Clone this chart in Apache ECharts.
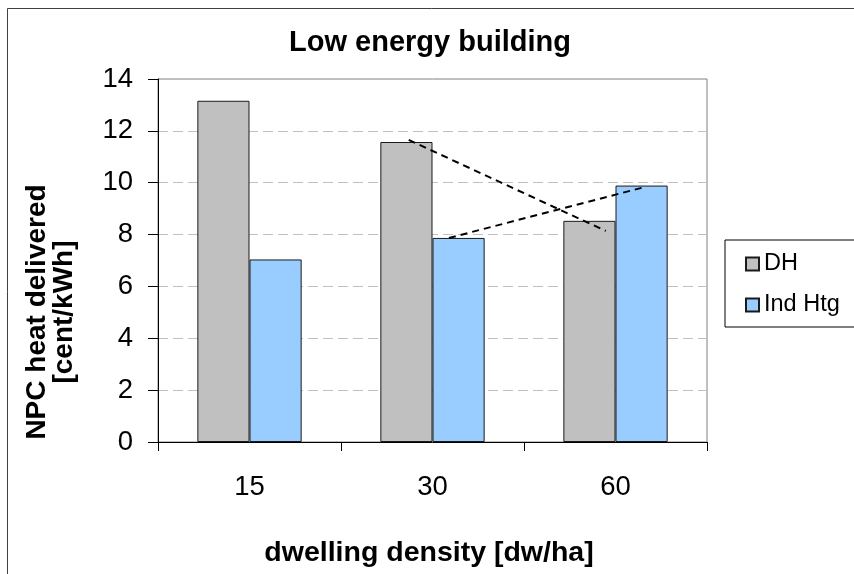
<!DOCTYPE html>
<html>
<head>
<meta charset="utf-8">
<script src="https://cdn.jsdelivr.net/npm/echarts@6/dist/echarts.min.js"></script>
<style>
html,body{margin:0;padding:0;background:#fff;}
#chart{width:854px;height:574px;}
</style>
</head>
<body>
<div id="chart"></div>
<script>
// Data
var categories = ['15', '30', '60'];
var seriesNames = ['DH', 'Ind Htg'];
var dhValues = [13.16, 11.57, 8.53];
var indHtgValues = [7.04, 7.87, 9.89];
var yTicks = [0, 2, 4, 6, 8, 10, 12, 14];
// dashed trend lines (x in category-width units across the plot, y in axis units)
var dashLine1X = [1.37, 2.447];
var dashLine1Y = [11.65, 8.14];
var dashLine2X = [1.59, 2.669];
var dashLine2Y = [7.87, 9.85];

var titleText = 'Low energy building';
var yTitleText = 'NPC heat delivered\n[cent/kWh]';
var xTitleText = 'dwelling density [dw/ha]';

var FONT = "'Liberation Sans', Arial, sans-serif";

function pairs(xs, ys) {
  return xs.map(function (x, i) { return [x, ys[i]]; });
}

var chart = echarts.init(document.getElementById('chart'), null, {renderer: 'canvas'});
var option = {
  animation: false,
  backgroundColor: '#fff',
  textStyle: {fontFamily: FONT},
  grid: {left: 158, top: 79, right: 147, bottom: 132, show: true, borderColor: '#808080', borderWidth: 1},
  legend: {
    data: seriesNames,
    orient: 'vertical',
    left: 725,
    top: 240,
    icon: 'rect',
    itemWidth: 13,
    itemHeight: 13,
    itemGap: 17,
    padding: [12, 16, 10, 20],
    borderColor: '#000',
    borderWidth: 1,
    textStyle: {fontFamily: FONT, fontSize: 23.5, color: '#000', lineHeight: 23}
  },
  xAxis: [{
    type: 'category',
    data: categories,
    boundaryGap: true,
    axisLine: {lineStyle: {color: '#000', width: 1}},
    axisTick: {show: true, length: 9, lineStyle: {color: '#000'}},
    axisLabel: {fontFamily: FONT, fontSize: 27.5, color: '#000', margin: 31}
  }, {
    type: 'value',
    min: 0,
    max: 3,
    show: false
  }],
  yAxis: {
    type: 'value',
    min: yTicks[0],
    max: yTicks[yTicks.length - 1],
    interval: 2,
    axisLine: {show: true, lineStyle: {color: '#000', width: 1}},
    axisTick: {show: true, length: 10, lineStyle: {color: '#000'}},
    axisLabel: {fontFamily: FONT, fontSize: 27.5, color: '#000', margin: 25},
    splitLine: {show: true, showMinLine: false, showMaxLine: false, lineStyle: {color: '#c0c0c0', type: [10, 5], width: 1}}
  },
  series: [{
    name: seriesNames[0],
    type: 'bar',
    data: dhValues,
    barGap: '0%',
    barCategoryGap: '43%',
    itemStyle: {color: '#c0c0c0', borderColor: '#1a1a1a', borderWidth: 1}
  }, {
    name: seriesNames[1],
    type: 'bar',
    data: indHtgValues,
    barGap: '0%',
    barCategoryGap: '43%',
    itemStyle: {color: '#99ccff', borderColor: '#1a1a1a', borderWidth: 1}
  }, {
    name: 'trend1',
    type: 'line',
    xAxisIndex: 1,
    data: pairs(dashLine1X, dashLine1Y),
    symbol: 'none',
    silent: true,
    z: 5,
    lineStyle: {color: '#000', width: 2, type: [7, 5]}
  }, {
    name: 'trend2',
    type: 'line',
    xAxisIndex: 1,
    data: pairs(dashLine2X, dashLine2Y),
    symbol: 'none',
    silent: true,
    z: 5,
    lineStyle: {color: '#000', width: 2, type: [7, 5]}
  }],
  graphic: [{
    type: 'rect',
    silent: true,
    z: -10,
    shape: {x: 7.5, y: 8.5, width: 1000, height: 1000},
    style: {fill: null, stroke: '#404040', lineWidth: 1}
  }, {
    type: 'text',
    x: 430,
    y: 43,
    style: {text: titleText, font: 'bold 29px ' + FONT, fill: '#000', textAlign: 'center', textVerticalAlign: 'middle'}
  }, {
    type: 'text',
    x: 51,
    y: 312,
    rotation: Math.PI / 2,
    style: {text: yTitleText, font: 'bold 28px ' + FONT, fill: '#000', textAlign: 'center', textVerticalAlign: 'middle', lineHeight: 27}
  }, {
    type: 'text',
    x: 429,
    y: 553,
    style: {text: xTitleText, font: 'bold 28.5px ' + FONT, fill: '#000', textAlign: 'center', textVerticalAlign: 'middle'}
  }]
};
chart.setOption(option);
</script>
</body>
</html>
